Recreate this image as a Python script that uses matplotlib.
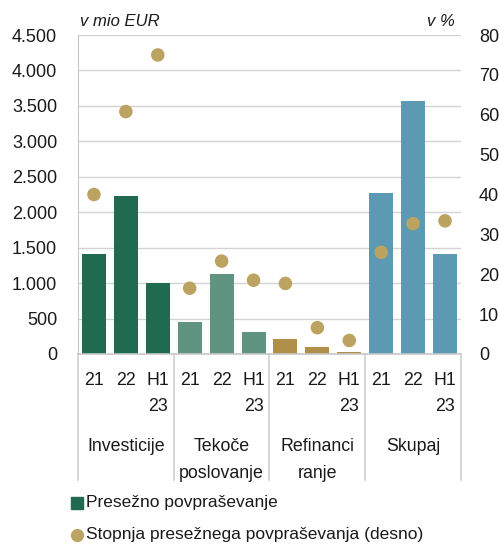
import matplotlib
matplotlib.use("Agg")
import matplotlib.pyplot as plt
from matplotlib.lines import Line2D

plt.rcParams['font.family'] = ['Liberation Sans', 'DejaVu Sans']

groups = ["Investicije", "Tekoče\nposlovanje", "Refinanci\nranje", "Skupaj"]
periods = ["21", "22", "H1\n23"]
excess_demand = [1410, 2230, 1000, 450, 1130, 310, 210, 100, 30, 2270, 3575, 1410]
excess_rate = [40.0, 60.8, 75.0, 16.5, 23.3, 18.5, 17.7, 6.6, 3.4, 25.5, 32.7, 33.4]
group_colors = ["#206a4f", "#5f9480", "#b08f4a", "#5b9ab2"]
dot_color = "#bca361"
left_ticks = [0, 500, 1000, 1500, 2000, 2500, 3000, 3500, 4000, 4500]
left_labels = ["0", "500", "1.000", "1.500", "2.000", "2.500", "3.000", "3.500", "4.000", "4.500"]
right_ticks = [0, 10, 20, 30, 40, 50, 60, 70, 80]

fig = plt.figure(figsize=(4.99, 5.46), dpi=100)
ax = fig.add_axes([78/499, 1-354/546, (461-78)/499, (354-35)/546])
ax2 = ax.twinx()

n = len(excess_demand)
xs = list(range(n))
colors = [group_colors[i // 3] for i in xs]
ax.bar(xs, excess_demand, width=0.75, color=colors, zorder=2)
ax2.scatter(xs, excess_rate, s=95, color=dot_color, zorder=3, edgecolors='none')

ax.set_xlim(-0.5, n - 0.5)
ax.set_ylim(0, 4500)
ax2.set_ylim(0, 80)
ax.set_yticks(left_ticks)
ax.set_yticklabels(left_labels)
ax2.set_yticks(right_ticks)
ax.yaxis.grid(True, color="#d3d3d3", linewidth=1.0, zorder=0)
ax.set_axisbelow(True)
for a in (ax, ax2):
    a.tick_params(axis='y', length=0, labelsize=13, colors="#1a1a1a")
    a.set_xticks([])
    for s in a.spines.values():
        s.set_visible(False)
ax.tick_params(axis='y', pad=15)
ax2.tick_params(axis='y', pad=13)
ax.spines['left'].set_visible(True)
ax.spines['left'].set_linestyle((0, (1, 1)))
ax.spines['left'].set_color("#c8c8c8")
ax.spines['left'].set_linewidth(0.8)
ax.spines['bottom'].set_visible(True)
ax.spines['bottom'].set_color("#c8c8c8")
ax.spines['bottom'].set_linewidth(1.2)

trans = ax.get_xaxis_transform()
fs = 12.8
for i in xs:
    ax.text(i, -0.055, periods[i % 3], transform=trans, ha='center', va='top',
            fontsize=fs, color="#1a1a1a", linespacing=1.75)
for g in range(4):
    ax.text(g * 3 + 1, -0.262, groups[g], transform=trans, ha='center', va='top',
            fontsize=fs, color="#1a1a1a", linespacing=1.8)
for b in range(5):
    ax.add_line(Line2D([b * 3 - 0.5, b * 3 - 0.5], [0, -0.395], transform=trans,
                       color="#cfcfcf", linewidth=1.2, clip_on=False))

fig.text(80/499, 1-22/546, "v mio EUR", style='italic', fontsize=12, ha='left', va='center', color="#1a1a1a")
fig.text(455/499, 1-22/546, "v %", style='italic', fontsize=12, ha='right', va='center', color="#1a1a1a")

fig.add_artist(Line2D([77/499], [1-503/546], marker='s', markersize=8, color=group_colors[0], linestyle='none'))
fig.text(86/499, 1-503/546, "Presežno povpraševanje", fontsize=12.5, ha='left', va='center', color="#1a1a1a")
fig.add_artist(Line2D([77/499], [1-535/546], marker='o', markersize=8.5, color=dot_color, linestyle='none'))
fig.text(86/499, 1-535/546, "Stopnja presežnega povpraševanja (desno)", fontsize=12.5, ha='left', va='center', color="#1a1a1a")

fig.savefig("out.png", dpi=100)
